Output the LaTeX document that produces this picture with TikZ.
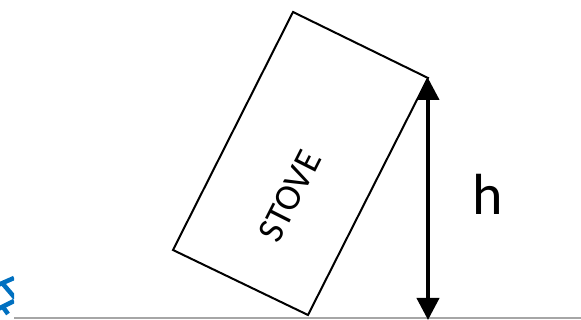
\documentclass[tikz,border=0pt]{standalone}
\usepackage{fontspec}
\setmainfont{Carlito}
\usetikzlibrary{arrows.meta}
\tikzset{
	stoveline/.style={draw=black, line width=2pt, line join=miter},
	height/.style={{Triangle[width=22pt,length=22pt]}-{Triangle[width=22pt,length=22pt]}, line width=4pt},
	ground/.style={draw=black!35, line width=1.5pt},
	glyph/.style={draw={rgb,255:red,0;green,112;blue,192}, line width=4.5pt},
}
\begin{document}
\begin{tikzpicture}[x=1pt, y=1pt]
		\useasboundingbox (0,0) rectangle (581,320);
		% tilted stove
		\coordinate (T) at (293,308);
		\coordinate (R) at (428,242);
		\coordinate (B) at (308,5);
		\coordinate (L) at (173,70);
		\draw[stoveline] (T) -- (R) -- (B) -- (L) -- cycle;
		\node[rotate=63.2, font=\fontsize{37}{37}\selectfont] (stove) at (290,124) {STOVE};

		% ground and height
		\coordinate (G0) at (14,2);
		\coordinate (G1) at (581,2);
		\draw[ground] (G0) -- (G1);
		\coordinate (F) at (428,0);
		\draw[height] (R) -- (F);
		\node[font=\fontsize{58}{58}\selectfont, anchor=base west] (h) at (469,105) {h};

		% clipped mark at the left edge
		\begin{scope}
			\clip (0,0) rectangle (14,60);
			\draw[glyph] (-2,35) -- (14,42);
			\draw[glyph] (3,36) -- (15,22);
			\draw[glyph] (-2,11) -- (14,19);
			\draw[glyph] (3,13) -- (8,6);
		\end{scope}
	\end{tikzpicture}
\end{document}
